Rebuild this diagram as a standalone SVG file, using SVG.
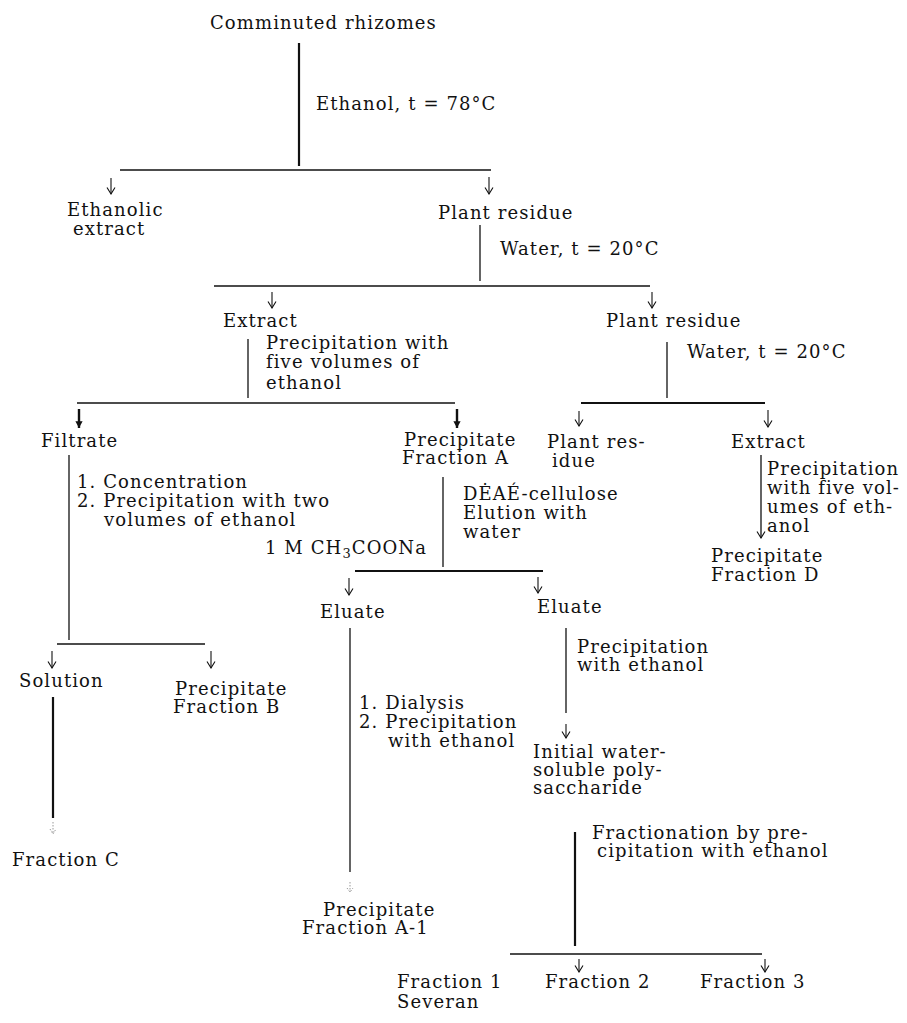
<svg xmlns="http://www.w3.org/2000/svg" width="907" height="1023" viewBox="0 0 907 1023">
<style>
.t{font-family:"DejaVu Serif","Liberation Serif",serif;font-size:18px;letter-spacing:1.1px;fill:#111}
.ln{stroke:#111;stroke-width:1.3;fill:none}
.thk{stroke:#111;stroke-width:2.2;fill:none}
.ar{stroke:#111;stroke-width:1.1;fill:none}
.bar{stroke:#111;stroke-width:2.4;fill:none}
.faint{stroke:#999;stroke-width:1;fill:none;stroke-dasharray:1.5 1.5}
</style>
<defs>
<marker id="ah" viewBox="0 0 10 10" refX="9.5" refY="5" markerWidth="10" markerHeight="10" markerUnits="userSpaceOnUse" orient="auto">
<path d="M3,1 L9.5,5 L3,9" fill="none" stroke="#111" stroke-width="1.1"/>
</marker>
<marker id="bh" viewBox="0 0 10 10" refX="9.5" refY="5" markerWidth="9" markerHeight="9" markerUnits="userSpaceOnUse" orient="auto">
<path d="M2,1 L9.5,5 L2,9 Z" fill="#111"/>
</marker>
</defs>
<rect width="907" height="1023" fill="#fff"/>

<g id="connectors">
<line class="thk" x1="299" y1="43" x2="299" y2="166"/>
<line class="ln" x1="120" y1="170" x2="491" y2="170"/>
<line class="ar" x1="111" y1="178" x2="111" y2="194" marker-end="url(#ah)"/>
<line class="ar" x1="489" y1="177" x2="489" y2="194" marker-end="url(#ah)"/>
<line class="ln" x1="480" y1="225" x2="480" y2="281"/>
<line class="ln" x1="214" y1="286" x2="650" y2="286"/>
<line class="ar" x1="272" y1="292" x2="272" y2="308" marker-end="url(#ah)"/>
<line class="ar" x1="652" y1="292" x2="652" y2="308" marker-end="url(#ah)"/>
<line class="ln" x1="248" y1="339" x2="248" y2="398"/>
<line class="ln" x1="77" y1="403" x2="455" y2="403"/>
<line class="bar" x1="79" y1="409" x2="79" y2="428" marker-end="url(#bh)"/>
<line class="bar" x1="457" y1="409" x2="457" y2="428" marker-end="url(#bh)"/>
<line class="ln" x1="667" y1="342" x2="667" y2="398"/>
<line class="thk" x1="581" y1="403" x2="765" y2="403"/>
<line class="ar" x1="579" y1="411" x2="579" y2="426" marker-end="url(#ah)"/>
<line class="ar" x1="768" y1="410" x2="768" y2="427" marker-end="url(#ah)"/>
<line class="ln" x1="761" y1="455" x2="761" y2="538" marker-end="url(#ah)"/>
<line class="ln" x1="69" y1="455" x2="69" y2="640"/>
<line class="ln" x1="57" y1="644" x2="205" y2="644"/>
<line class="ar" x1="52" y1="651" x2="52" y2="668" marker-end="url(#ah)"/>
<line class="ar" x1="211" y1="651" x2="211" y2="668" marker-end="url(#ah)"/>
<line class="thk" x1="53" y1="697" x2="53" y2="818"/>
<path class="faint" d="M53,822 L53,834 M50,829 L53,834 L56,829"/>
<line class="ln" x1="443" y1="477" x2="443" y2="567"/>
<line class="thk" x1="355" y1="571" x2="543" y2="571"/>
<line class="ar" x1="349" y1="578" x2="349" y2="595" marker-end="url(#ah)"/>
<line class="ar" x1="538" y1="577" x2="538" y2="593" marker-end="url(#ah)"/>
<line class="ln" x1="350" y1="628" x2="350" y2="872"/>
<path class="faint" d="M350,882 L350,892 M347,888 L350,892 L353,888"/>
<line class="ln" x1="566" y1="628" x2="566" y2="713"/>
<line class="ar" x1="566" y1="724" x2="566" y2="738" marker-end="url(#ah)"/>
<line class="thk" x1="575" y1="832" x2="575" y2="946"/>
<line class="ln" x1="510" y1="954" x2="762" y2="954"/>
<line class="ar" x1="579" y1="959" x2="579" y2="972" marker-end="url(#ah)"/>
<line class="ar" x1="765" y1="959" x2="765" y2="972" marker-end="url(#ah)"/>
</g>

<g id="n-comminuted"><text class="t" x="210" y="29">Comminuted rhizomes</text></g>
<g id="l-ethanol"><text class="t" x="316" y="110">Ethanol, t = 78°C</text></g>
<g id="n-ethanolic"><text class="t" x="67" y="216">Ethanolic</text><text class="t" x="73" y="235">extract</text></g>
<g id="n-plant1"><text class="t" x="438" y="219">Plant residue</text></g>
<g id="l-water1"><text class="t" x="500" y="255">Water, t = 20°C</text></g>
<g id="n-extract1"><text class="t" x="223" y="327">Extract</text></g>
<g id="l-precip5"><text class="t" x="266" y="349">Precipitation with</text><text class="t" x="266" y="368">five volumes of</text><text class="t" x="266" y="389">ethanol</text></g>
<g id="n-plant2"><text class="t" x="606" y="327">Plant residue</text></g>
<g id="l-water2"><text class="t" x="687" y="358">Water, t = 20°C</text></g>
<g id="n-filtrate"><text class="t" x="41" y="447">Filtrate</text></g>
<g id="n-fracA"><text class="t" x="404" y="446">Precipitate</text><text class="t" x="402" y="464">Fraction A</text></g>
<g id="n-plant3"><text class="t" x="547" y="448">Plant res-</text><text class="t" x="552" y="467">idue</text></g>
<g id="n-extract2"><text class="t" x="731" y="448">Extract</text></g>
<g id="l-precip5b"><text class="t" x="767" y="475">Precipitation</text><text class="t" x="767" y="494">with five vol-</text><text class="t" x="767" y="513">umes of eth-</text><text class="t" x="767" y="532">anol</text></g>
<g id="n-fracD"><text class="t" x="711" y="562">Precipitate</text><text class="t" x="711" y="581">Fraction D</text></g>
<g id="l-conc"><text class="t" x="77" y="488">1. Concentration</text><text class="t" x="77" y="507">2. Precipitation with two</text><text class="t" x="104" y="526">volumes of ethanol</text></g>
<g id="l-deae"><text class="t" x="463" y="500">DĖAÉ-cellulose</text><text class="t" x="463" y="519">Elution with</text><text class="t" x="463" y="538">water</text></g>
<g id="l-naac"><text class="t" x="265" y="554">1 M CH<tspan font-size="13" dy="4">3</tspan><tspan dy="-4">COONa</tspan></text></g>
<g id="n-eluate1"><text class="t" x="320" y="618">Eluate</text></g>
<g id="n-eluate2"><text class="t" x="537" y="613">Eluate</text></g>
<g id="l-precipE"><text class="t" x="577" y="653">Precipitation</text><text class="t" x="577" y="671">with ethanol</text></g>
<g id="n-solution"><text class="t" x="19" y="687">Solution</text></g>
<g id="n-fracB"><text class="t" x="175" y="695">Precipitate</text><text class="t" x="173" y="713">Fraction B</text></g>
<g id="l-dialysis"><text class="t" x="359" y="709">1. Dialysis</text><text class="t" x="359" y="728">2. Precipitation</text><text class="t" x="388" y="747">with ethanol</text></g>
<g id="n-initial"><text class="t" x="533" y="758">Initial water-</text><text class="t" x="533" y="776">soluble poly-</text><text class="t" x="533" y="794">saccharide</text></g>
<g id="l-fractionation"><text class="t" x="592" y="839">Fractionation by pre-</text><text class="t" x="597" y="857">cipitation with ethanol</text></g>
<g id="n-fracC"><text class="t" x="12" y="866">Fraction C</text></g>
<g id="n-fracA1"><text class="t" x="323" y="916">Precipitate</text><text class="t" x="302" y="934">Fraction A-1</text></g>
<g id="n-frac1"><text class="t" x="397" y="988">Fraction 1</text><text class="t" x="397" y="1008">Severan</text></g>
<g id="n-frac2"><text class="t" x="545" y="988">Fraction 2</text></g>
<g id="n-frac3"><text class="t" x="700" y="988">Fraction 3</text></g>
</svg>
